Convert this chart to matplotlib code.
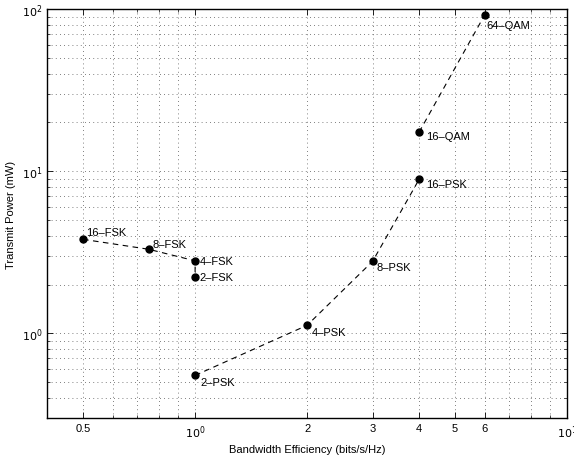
import matplotlib
matplotlib.use("Agg")
import matplotlib.pyplot as plt
from matplotlib.ticker import FixedLocator, NullFormatter

plt.rcParams['font.family'] = ['Liberation Sans', 'DejaVu Sans']

# ===============================
# Data
# ===============================
fsk_names = ["16-FSK", "8-FSK", "4-FSK", "2-FSK"]
fsk_eff = [0.5, 0.75, 1.0, 1.0]
fsk_power = [3.8, 3.3, 2.8, 2.23]

psk_names = ["2-PSK", "4-PSK", "8-PSK", "16-PSK"]
psk_eff = [1.0, 2.0, 3.0, 4.0]
psk_power = [0.55, 1.12, 2.78, 8.9]

qam_names = ["16-QAM", "64-QAM"]
qam_eff = [4.0, 6.0]
qam_power = [17.4, 91.8]

x_ticks = [0.5, 1, 2, 3, 4, 5, 6, 10]
x_ticklabels = ["0.5", "$10^0$", "2", "3", "4", "5", "6", "$10^1$"]
y_ticks = [1, 10, 100]
y_ticklabels = ["$10^0$", "$10^1$", "$10^2$"]

# label offsets in points (dx, dy)
label_offsets = {
    "16-FSK": (2, 5), "8-FSK": (3, 4), "4-FSK": (3, 0), "2-FSK": (3, 0),
    "2-PSK": (4, -5), "4-PSK": (3, -5), "8-PSK": (3, -4), "16-PSK": (5, -3),
    "16-QAM": (5, -3), "64-QAM": (1, -7),
}

fig = plt.figure(figsize=(5.74, 4.6), dpi=100)
ax = fig.add_axes([0.082, 0.089, 0.906, 0.889])

for xs, ys, names in [(fsk_eff, fsk_power, fsk_names),
                      (psk_eff, psk_power, psk_names),
                      (qam_eff, qam_power, qam_names)]:
    ax.plot(xs, ys, linestyle=(0, (5, 4)), color="black", linewidth=0.8,
            marker="o", markersize=5, markerfacecolor="black",
            markeredgecolor="black")
    for x, y, n in zip(xs, ys, names):
        ax.annotate(n.replace("-", "\u2013"), (x, y), xytext=label_offsets[n],
                    textcoords="offset points", fontsize=8,
                    ha="left", va="center")

ax.set_xscale("log")
ax.set_yscale("log")
ax.set_xlim(0.4, 10)
ax.set_ylim(0.3, 100)

ax.xaxis.set_major_locator(FixedLocator(x_ticks))
ax.set_xticklabels(x_ticklabels)
ax.xaxis.set_minor_locator(FixedLocator([0.6, 0.7, 0.8, 0.9, 7, 8, 9]))
ax.xaxis.set_minor_formatter(NullFormatter())
ax.yaxis.set_major_locator(FixedLocator(y_ticks))
ax.set_yticklabels(y_ticklabels)
ax.yaxis.set_minor_locator(FixedLocator([0.3, 0.4, 0.5, 0.6, 0.7, 0.8, 0.9,
                                         2, 3, 4, 5, 6, 7, 8, 9,
                                         20, 30, 40, 50, 60, 70, 80, 90]))
ax.yaxis.set_minor_formatter(NullFormatter())

ax.tick_params(which="both", direction="in", top=True, right=True,
               labelsize=8)
ax.tick_params(which="major", length=4, width=0.6)
ax.tick_params(which="minor", length=2, width=0.5)
ax.grid(True, which="both", linestyle=(0, (1, 4)), color="#555555",
        linewidth=0.6)
for s in ax.spines.values():
    s.set_linewidth(1.0)

ax.set_xlabel("Bandwidth Efficiency (bits/s/Hz)", fontsize=8, labelpad=3)
ax.set_ylabel("Transmit Power (mW)", fontsize=8, labelpad=4)

fig.savefig("out.png", dpi=100)
